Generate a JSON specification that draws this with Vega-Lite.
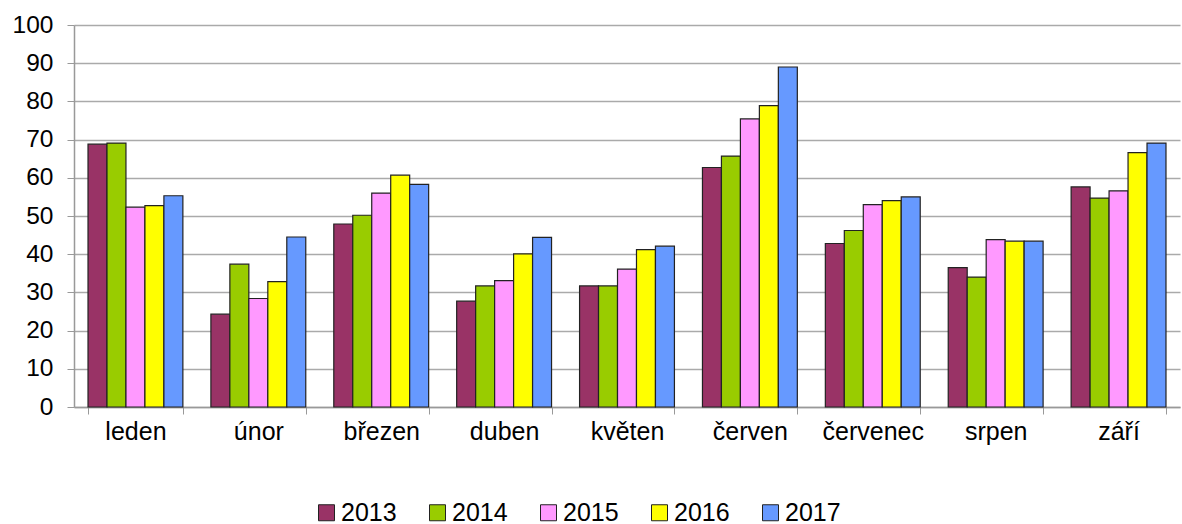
{
  "$schema": "https://vega.github.io/schema/vega-lite/v6.json",
  "width": 1106,
  "height": 382,
  "autosize": "none",
  "padding": {"left": 74, "top": 25, "right": 2, "bottom": 117},
  "background": "white",
  "config": {
    "view": {"stroke": null},
    "font": "Liberation Sans"
  },
  "data": {
    "values": [
      {"month": "leden", "year": "2013", "value": 68.8},
      {"month": "leden", "year": "2014", "value": 69.1},
      {"month": "leden", "year": "2015", "value": 52.3},
      {"month": "leden", "year": "2016", "value": 52.7},
      {"month": "leden", "year": "2017", "value": 55.3},
      {"month": "únor", "year": "2013", "value": 24.3},
      {"month": "únor", "year": "2014", "value": 37.4},
      {"month": "únor", "year": "2015", "value": 28.4},
      {"month": "únor", "year": "2016", "value": 32.8},
      {"month": "únor", "year": "2017", "value": 44.5},
      {"month": "březen", "year": "2013", "value": 47.9},
      {"month": "březen", "year": "2014", "value": 50.2},
      {"month": "březen", "year": "2015", "value": 56.0},
      {"month": "březen", "year": "2016", "value": 60.7},
      {"month": "březen", "year": "2017", "value": 58.3},
      {"month": "duben", "year": "2013", "value": 27.7},
      {"month": "duben", "year": "2014", "value": 31.7},
      {"month": "duben", "year": "2015", "value": 33.1},
      {"month": "duben", "year": "2016", "value": 40.1},
      {"month": "duben", "year": "2017", "value": 44.4},
      {"month": "květen", "year": "2013", "value": 31.7},
      {"month": "květen", "year": "2014", "value": 31.7},
      {"month": "květen", "year": "2015", "value": 36.1},
      {"month": "květen", "year": "2016", "value": 41.2},
      {"month": "květen", "year": "2017", "value": 42.1},
      {"month": "červen", "year": "2013", "value": 62.7},
      {"month": "červen", "year": "2014", "value": 65.7},
      {"month": "červen", "year": "2015", "value": 75.4},
      {"month": "červen", "year": "2016", "value": 78.9},
      {"month": "červen", "year": "2017", "value": 89.0},
      {"month": "červenec", "year": "2013", "value": 42.8},
      {"month": "červenec", "year": "2014", "value": 46.2},
      {"month": "červenec", "year": "2015", "value": 53.0},
      {"month": "červenec", "year": "2016", "value": 54.0},
      {"month": "červenec", "year": "2017", "value": 55.0},
      {"month": "srpen", "year": "2013", "value": 36.5},
      {"month": "srpen", "year": "2014", "value": 34.0},
      {"month": "srpen", "year": "2015", "value": 43.8},
      {"month": "srpen", "year": "2016", "value": 43.4},
      {"month": "srpen", "year": "2017", "value": 43.4},
      {"month": "září", "year": "2013", "value": 57.6},
      {"month": "září", "year": "2014", "value": 54.7},
      {"month": "září", "year": "2015", "value": 56.6},
      {"month": "září", "year": "2016", "value": 66.6},
      {"month": "září", "year": "2017", "value": 69.1}
    ]
  },
  "mark": {"type": "bar", "stroke": "#222222", "strokeWidth": 1.2},
  "encoding": {
    "x": {
      "field": "month",
      "type": "nominal",
      "sort": ["leden", "únor", "březen", "duben", "květen", "červen", "červenec", "srpen", "září"],
      "scale": {"paddingInner": 0.228, "paddingOuter": 0.114},
      "axis": {
        "title": null,
        "labelAngle": 0,
        "labelFontSize": 25,
        "labelColor": "#000000",
        "labelPadding": 5,
        "tickBand": "extent",
        "tickSize": 7,
        "tickColor": "#999999",
        "domainColor": "#999999",
        "domainWidth": 1.5,
        "grid": false
      }
    },
    "xOffset": {
      "field": "year",
      "type": "nominal",
      "scale": {"paddingInner": 0, "paddingOuter": 0}
    },
    "y": {
      "field": "value",
      "type": "quantitative",
      "scale": {"domain": [0, 100]},
      "axis": {
        "title": null,
        "values": [0, 10, 20, 30, 40, 50, 60, 70, 80, 90, 100],
        "labelFontSize": 24.5,
        "labelColor": "#000000",
        "labelPadding": 14,
        "tickSize": 7,
        "tickColor": "#999999",
        "domainColor": "#999999",
        "domainWidth": 1.5,
        "gridColor": "#aaaaaa",
        "gridWidth": 1.5
      }
    },
    "color": {
      "field": "year",
      "type": "nominal",
      "scale": {
        "domain": ["2013", "2014", "2015", "2016", "2017"],
        "range": ["#993366", "#99cc00", "#ff99ff", "#ffff00", "#6699ff"]
      },
      "legend": {
        "title": null,
        "orient": "none",
        "legendX": 240,
        "legendY": 475,
        "direction": "horizontal",
        "columns": 5,
        "columnPadding": 28,
        "symbolType": "square",
        "symbolSize": 256,
        "symbolStrokeColor": "#222222",
        "symbolStrokeWidth": 1,
        "symbolOffset": 0,
        "labelFontSize": 25,
        "labelColor": "#000000",
        "labelOffset": 2
      }
    }
  }
}
